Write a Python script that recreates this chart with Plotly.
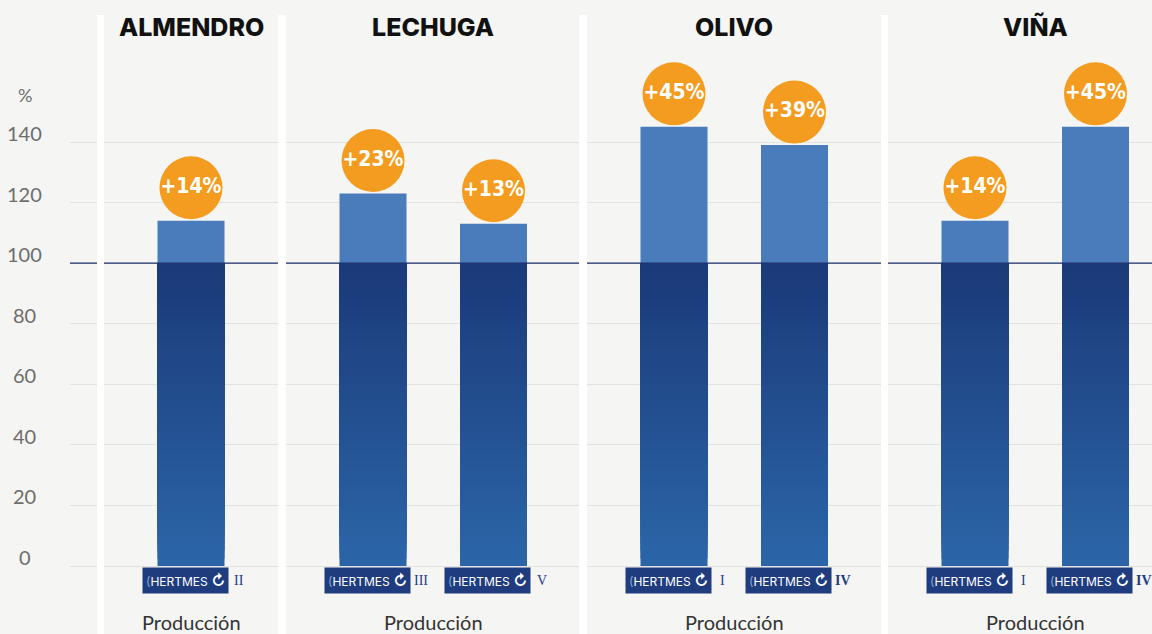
import plotly.graph_objects as go

# ---------------- data ----------------
crops = ["ALMENDRO", "LECHUGA", "OLIVO", "VIÑA"]
variants = [["II"], ["III", "V"], ["I", "IV"], ["I", "IV"]]
values = [[114], [123, 113], [145, 139], [114, 145]]
baseline = 100
y_ticks = [0, 20, 40, 60, 80, 100, 120, 140]
y_ticktext = ["0", "20", "40", "60", "80", "100", "120", "140"]
x_label = "Producción"
unit_label = "%"
brand = "HERTMES"

# ---------------- style ----------------
W, H = 1152, 634
BG = "#f5f5f3"
ORANGE = "#f39c1f"
LIGHT_BLUE = "#4a7bba"
NAVY = "#1f3c7e"
DARK_TOP = (27, 57, 120)
DARK_BOT = (43, 102, 169)
N_SEG = 40

domains_px = [(70, 278), (286, 579), (587, 881), (888, 1152)]
bar_first_px = [191, 373, 674, 975]
unit_px = 120.5
bar_width = 67 / unit_px
separators_px = [(97, 104), (278, 286), (579, 587), (881, 888)]

px_per_unit = (566 - 142) / 140
y_top = 566 / px_per_unit
y_bot = -(H - 566) / px_per_unit


def lerp(c1, c2, t):
    return "rgb(%d,%d,%d)" % tuple(round(a + (b - a) * t) for a, b in zip(c1, c2))


fig = go.Figure()
layout = dict(
    width=W, height=H, margin=dict(l=0, r=0, t=0, b=0),
    paper_bgcolor=BG, plot_bgcolor=BG, showlegend=False,
    barmode="overlay", font=dict(family="Lato", color="#555"),
    yaxis=dict(range=[y_bot, y_top], tickvals=y_ticks, showticklabels=False,
               showgrid=True, gridcolor="#e2e2e0", gridwidth=1.3,
               zeroline=False, showline=False, fixedrange=True, anchor="x"),
)

annotations = []
shapes = []

seg_h = baseline / N_SEG
for i, (crop, vars_, vals) in enumerate(zip(crops, variants, values)):
    ax = "x" if i == 0 else "x%d" % (i + 1)
    axkey = "xaxis" if i == 0 else "xaxis%d" % (i + 1)
    d0, d1 = domains_px[i]
    left = -(bar_first_px[i] - d0) / unit_px
    right = (d1 - bar_first_px[i]) / unit_px
    layout[axkey] = dict(domain=[d0 / W, d1 / W], range=[left, right],
                         type="category", categoryorder="array",
                         categoryarray=vars_, showticklabels=False,
                         showgrid=False, zeroline=False, showline=False,
                         anchor="y", fixedrange=True)

    # gradient lower part (0..baseline): overlapping layers, each up to baseline
    xs, bases, ys, cols = [], [], [], []
    for k in range(N_SEG):
        for v in vars_:
            xs.append(v)
            bases.append(k * seg_h)
            ys.append(baseline - k * seg_h)
            cols.append(lerp(DARK_BOT, DARK_TOP, (k + 0.5) / N_SEG))
    fig.add_trace(go.Bar(x=xs, y=ys, base=bases, width=bar_width,
                         marker=dict(color=cols, line=dict(width=0)),
                         xaxis=ax, yaxis="y", hoverinfo="skip"))
    # upper part (baseline..value)
    fig.add_trace(go.Bar(x=vars_, y=[v - baseline for v in vals],
                         base=[baseline] * len(vals), width=bar_width,
                         marker=dict(color=LIGHT_BLUE, line=dict(width=0)),
                         xaxis=ax, yaxis="y"))
    # orange circles with gain labels
    offset = 33 / px_per_unit
    fig.add_trace(go.Scatter(
        x=vars_, y=[v + offset for v in vals], mode="markers+text",
        marker=dict(size=63, color=ORANGE, line=dict(width=0)),
        text=["<b>+%d%%</b>" % (v - baseline) for v in vals],
        textposition="middle center",
        textfont=dict(family="DejaVu Sans Condensed, Liberation Sans Narrow, Arial Narrow, sans-serif",
                      size=21, color="white"),
        xaxis=ax, yaxis="y", cliponaxis=False))

    center = 0 if len(vars_) == 1 else (len(vars_) - 1) / 2
    annotations.append(dict(x=center, y=1 - 27 / H, xref=ax, yref="paper",
                            text=crop, showarrow=False,
                            font=dict(family="Inter", size=25, color="#111", weight=800),
                            xanchor="center", yanchor="middle"))
    annotations.append(dict(x=center, y=1 - 622 / H, xref=ax, yref="paper",
                            text=x_label, showarrow=False,
                            font=dict(family="Lato", size=20, color="#333"),
                            xanchor="center", yanchor="middle"))
    for v in vars_:
        annotations.append(dict(
            x=v, y=0, xref=ax, yref="y", xshift=-6, yshift=-14,
            text="<span style='color:#8fa6cf'>(</span>" + brand
                 + " <span style='font-size:15px'><b>↻</b></span>",
            showarrow=False, bgcolor=NAVY, borderpad=3,
            font=dict(family="Inter", size=12, color="white"),
            xanchor="center", yanchor="middle"))
        annotations.append(dict(
            x=v, y=0, xref=ax, yref="y", xshift=48, yshift=-14,
            text=("<b>%s</b>" % v) if v == "IV" else v,
            showarrow=False,
            font=dict(family="Liberation Serif", size=14, color=NAVY),
            xanchor="center", yanchor="middle"))

for tv, tt in zip(y_ticks, y_ticktext):
    annotations.append(dict(x=24.5 / W, y=tv, xref="paper", yref="y", text=tt,
                            showarrow=False, yshift=9,
                            font=dict(family="Lato", size=20, color="#6d6d6d"),
                            xanchor="center", yanchor="middle"))
annotations.append(dict(x=24.5 / W, y=1 - 95 / H, xref="paper", yref="paper",
                        text=unit_label, showarrow=False,
                        font=dict(family="Lato", size=18, color="#6d6d6d"),
                        xanchor="center", yanchor="middle"))

shapes.append(dict(type="line", xref="paper", yref="y", x0=70 / W, x1=1,
                   y0=baseline, y1=baseline, line=dict(color="#1b2f6b", width=1.2),
                   layer="above"))
for a, b in separators_px:
    shapes.append(dict(type="rect", xref="paper", yref="paper",
                       x0=a / W, x1=b / W, y0=0, y1=1 - 15 / H,
                       fillcolor="white", line=dict(width=0), layer="above"))

layout["annotations"] = annotations
layout["shapes"] = shapes
fig.update_layout(**layout)
fig.write_html("out.html", config={"displayModeBar": False},
               post_script="document.body.style.margin='0';document.body.style.overflow='hidden';")
